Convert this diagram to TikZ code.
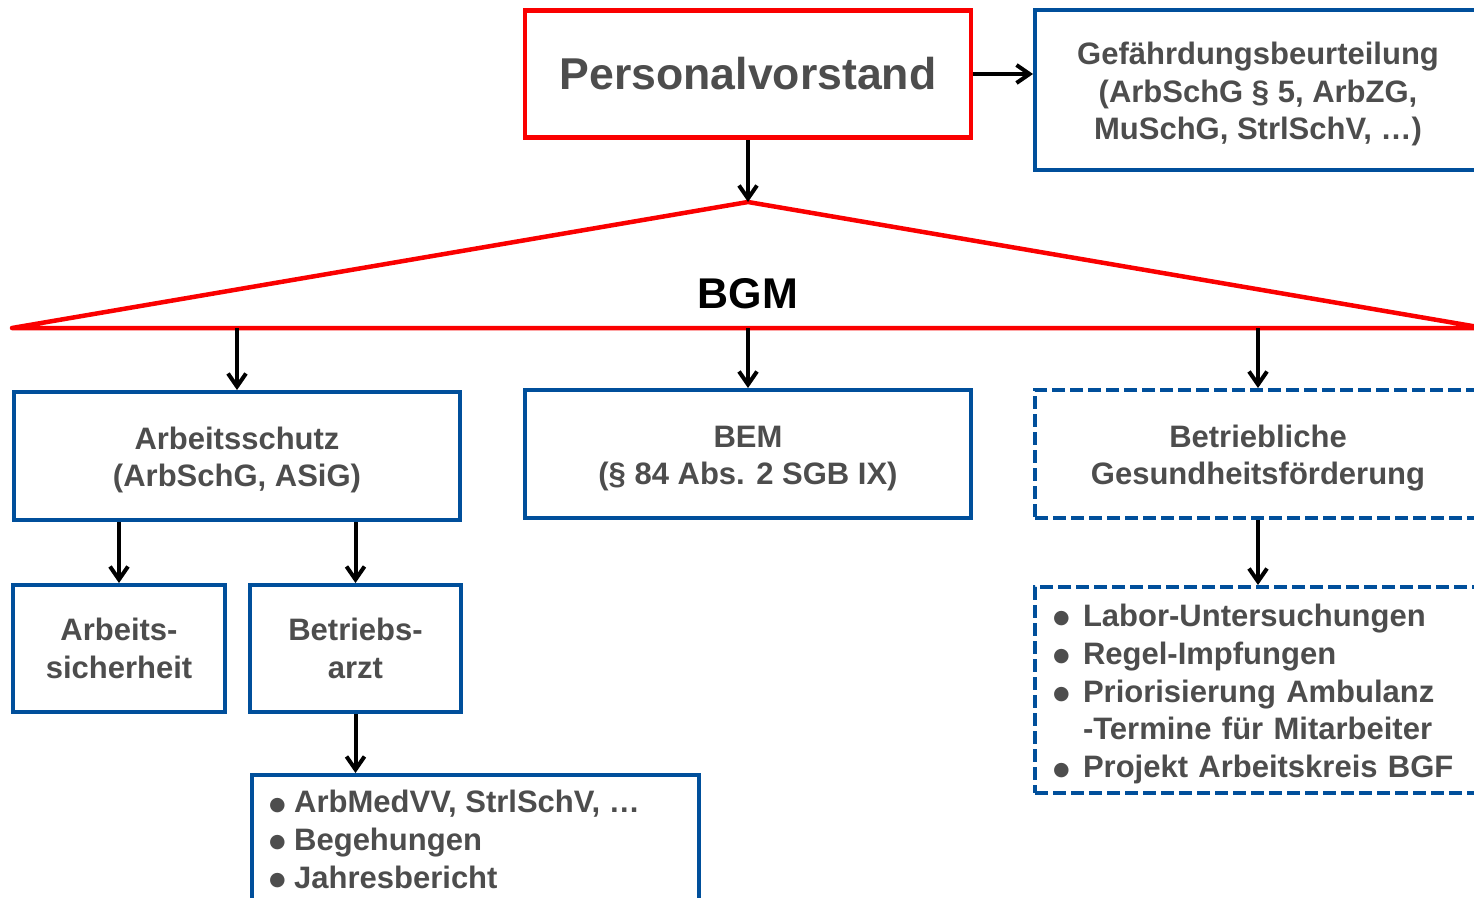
\documentclass[tikz,border=0pt]{standalone}
\usepackage{fontspec}
\setmainfont{Liberation Sans}
\newfontfamily\symfont{DejaVu Sans}
\usetikzlibrary{arrows.meta}
\definecolor{boxblue}{RGB}{0,79,155}
\definecolor{boxred}{RGB}{250,0,0}
\definecolor{txtgray}{RGB}{77,77,77}
\newcommand\bitem[2]{\makebox[#1][l]{\raisebox{2.5pt}{\symfont\fontsize{19}{19}\selectfont ●}}#2}
\newcommand\tstrut{\rule{0pt}{30.5pt}}
\begin{document}
\begin{tikzpicture}[x=1pt,y=-1pt,
  boxtext/.style={text=txtgray, font=\fontsize{31}{37.8}\selectfont\bfseries},
  bluebox/.style={boxtext, draw=boxblue, line width=4pt, minimum width=446pt, inner sep=0pt, align=center},
  dashbox/.style={bluebox, dash pattern=on 13pt off 5pt},
  redbox/.style={draw=boxred, line width=4.5pt, inner sep=0pt, text=txtgray, font=\fontsize{44.6}{50}\selectfont\bfseries},
  redline/.style={draw=boxred, line width=4.5pt, line join=round},
  arr/.style={line width=4pt, -{Straight Barb[length=13pt,width=18pt]}},
]
\useasboundingbox (0,0) rectangle (1474,897);
\clip (0,0) rectangle (1474,897);

\node[redbox, minimum width=446pt, minimum height=127pt] (pv) at (748,74) {Personalvorstand};
\node[bluebox, minimum height=160pt] (gb) at (1258,90) {\tstrut Gefährdungsbeurteilung\\(ArbSchG § 5, ArbZG,\\MuSchG, StrlSchV, …)};

\coordinate (apex) at (748,202);
\coordinate (bl) at (12,328);
\coordinate (br) at (1484,328);
\draw[redline] (apex) -- (bl) -- (br) -- cycle;
\node[font=\fontsize{43}{50}\selectfont\bfseries] (bgm) at (748,294) {BGM};

\node[bluebox, minimum height=128pt] (as) at (237,456) {\tstrut Arbeitsschutz\\(ArbSchG, ASiG)};
\node[bluebox, minimum height=128pt] (bem) at (748,454) {\tstrut BEM\\(§ 84 Abs. 2 SGB IX)};
\node[dashbox, minimum height=128pt] (bgf) at (1258,454) {\tstrut Betriebliche\\Gesundheitsförderung};

\node[bluebox, minimum width=212pt, minimum height=127pt] (asi) at (119,648.5) {Arbeits-\\sicherheit};
\node[bluebox, minimum width=211pt, minimum height=127pt] (ba) at (355.5,648.5) {Betriebs-\\arzt};

\node[dashbox, minimum height=206pt, text width=410pt, align=left] (lab) at (1258,690) {%
\bitem{30pt}{\tstrut Labor-Untersuchungen}\\
\bitem{30pt}{Regel-Impfungen}\\
\bitem{30pt}{Priorisierung Ambulanz}\\
\hspace*{30pt}-Termine für Mitarbeiter\\
\bitem{30pt}{Projekt Arbeitskreis BGF}};

\node[bluebox, minimum width=447pt, minimum height=160pt, anchor=north west] (bb) at (250,773) {};
\node[boxtext, anchor=north west, align=left, inner sep=0pt] (bbt) at (269,790) {%
\bitem{25pt}{ArbMedVV, StrlSchV, …}\\
\bitem{25pt}{Begehungen}\\
\bitem{25pt}{Jahresbericht}};

\draw[arr] (pv.east) -- (pv.east -| gb.west);
\draw[arr] (pv.south) -- (apex);
\draw[arr] (as.north |- bl) -- (as.north);
\draw[arr] (bem.north |- bl) -- (bem.north);
\draw[arr] (bgf.north |- bl) -- (bgf.north);
\draw[arr] (as.south -| asi.north) -- (asi.north);
\draw[arr] (as.south -| ba.north) -- (ba.north);
\draw[arr] (bgf.south) -- (lab.north);
\draw[arr] (ba.south) -- (ba.south |- bb.north);
\end{tikzpicture}
\end{document}
